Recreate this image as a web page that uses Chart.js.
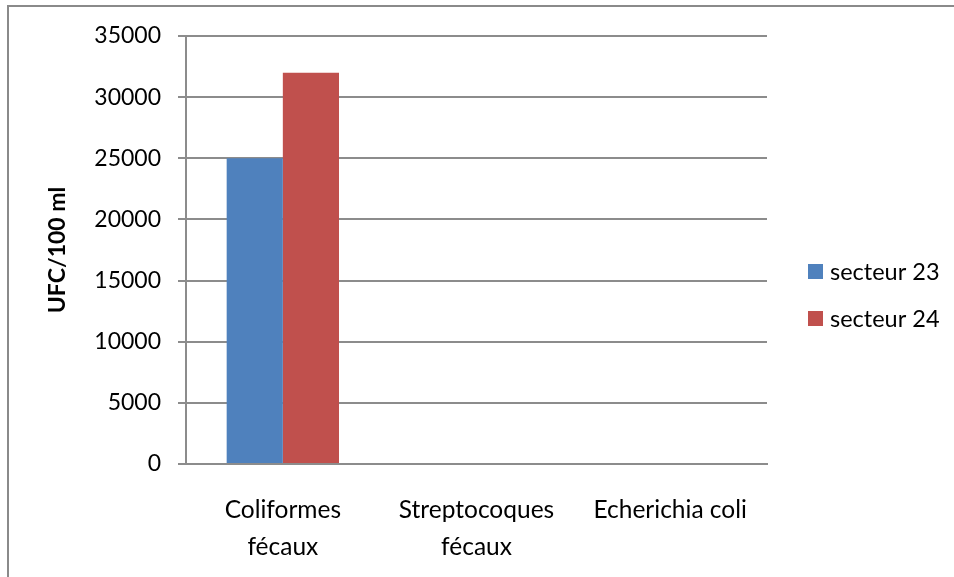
<!DOCTYPE html>
<html>
<head>
<meta charset="utf-8">
<script src="https://cdn.jsdelivr.net/npm/chart.js@4.4.1/dist/chart.umd.min.js"></script>
<style>
  html, body { margin: 0; padding: 0; background: #fff; }
  #wrap { position: relative; width: 954px; height: 577px; overflow: hidden; }
  #frame { position: absolute; left: 7px; top: 5px; width: 1000px; height: 700px;
           border-top: 2px solid #8a8a8a; border-left: 2px solid #8a8a8a; }
  canvas { position: absolute; left: 0; top: 0; }
</style>
</head>
<body>
<div id="wrap">
  <div id="frame"></div>
  <canvas id="c" width="954" height="577"></canvas>
</div>
<script>
// Bacterial counts per sampling sector
const categories = [['Coliformes', 'fécaux'], ['Streptocoques', 'fécaux'], 'Echerichia coli'];
const seriesNames = ['secteur 23', 'secteur 24'];
const secteur23 = [25000, 0, 0];
const secteur24 = [32000, 0, 0];
const yTicks = [0, 5000, 10000, 15000, 20000, 25000, 30000, 35000];
const yTitle = 'UFC/100 ml';

const FONT = 'Lato, "Open Sans", sans-serif';
const colors = ['#4F81BD', '#C0504D'];

// Legend drawn to the right of the plot: colour square followed by the series name
const sideLegend = {
  id: 'sideLegend',
  afterDraw(chart) {
    const { ctx, chartArea } = chart;
    const x0 = chartArea.right + 41;
    const midY = (chartArea.top + chartArea.bottom) / 2 + 45;
    const gap = 47;
    ctx.save();
    ctx.font = '23.5px ' + FONT;
    ctx.textBaseline = 'middle';
    ctx.textAlign = 'left';
    chart.data.datasets.forEach((ds, i) => {
      const cy = midY + (i - (chart.data.datasets.length - 1) / 2) * gap;
      ctx.fillStyle = ds.backgroundColor;
      ctx.fillRect(x0, cy - 7.5, 15, 15);
      ctx.fillStyle = '#000';
      ctx.fillText(ds.label, x0 + 22, cy + 1);
    });
    ctx.restore();
  }
};

new Chart(document.getElementById('c'), {
  type: 'bar',
  data: {
    labels: categories,
    datasets: [
      { label: seriesNames[0], data: secteur23, backgroundColor: colors[0] },
      { label: seriesNames[1], data: secteur24, backgroundColor: colors[1] }
    ]
  },
  options: {
    responsive: false,
    animation: false,
    devicePixelRatio: 1,
    layout: { padding: { left: 20, right: 187, top: 36, bottom: 0 } },
    datasets: { bar: { categoryPercentage: 0.58, barPercentage: 1.0, borderWidth: 0 } },
    plugins: { legend: { display: false }, tooltip: { enabled: false } },
    scales: {
      x: {
        grid: { display: false, drawTicks: false },
        border: { display: true, color: '#8c8c8c', width: 2 },
        ticks: {
          color: '#000',
          padding: 28,
          font: { family: FONT, size: 24.5, lineHeight: 1.5 },
          maxRotation: 0, autoSkip: false
        },
        afterFit(scale) { scale.height = 577 - 464; }
      },
      y: {
        min: 0, max: 35000,
        afterBuildTicks(scale) { scale.ticks = yTicks.map(v => ({ value: v })); },
        grid: { color: '#8c8c8c', lineWidth: 2, tickLength: 8, drawTicks: true },
        border: { display: true, color: '#8c8c8c', width: 2 },
        ticks: {
          color: '#000',
          padding: 17,
          font: { family: FONT, size: 23 },
          callback: v => String(v)
        },
        title: {
          display: true, text: yTitle, color: '#000',
          font: { family: FONT, size: 23, weight: 'bold' },
          padding: { top: 24, bottom: 0 }
        },
        afterFit(scale) { scale.width = 186 - 20; }
      }
    }
  },
  plugins: [sideLegend]
});
</script>
</body>
</html>
